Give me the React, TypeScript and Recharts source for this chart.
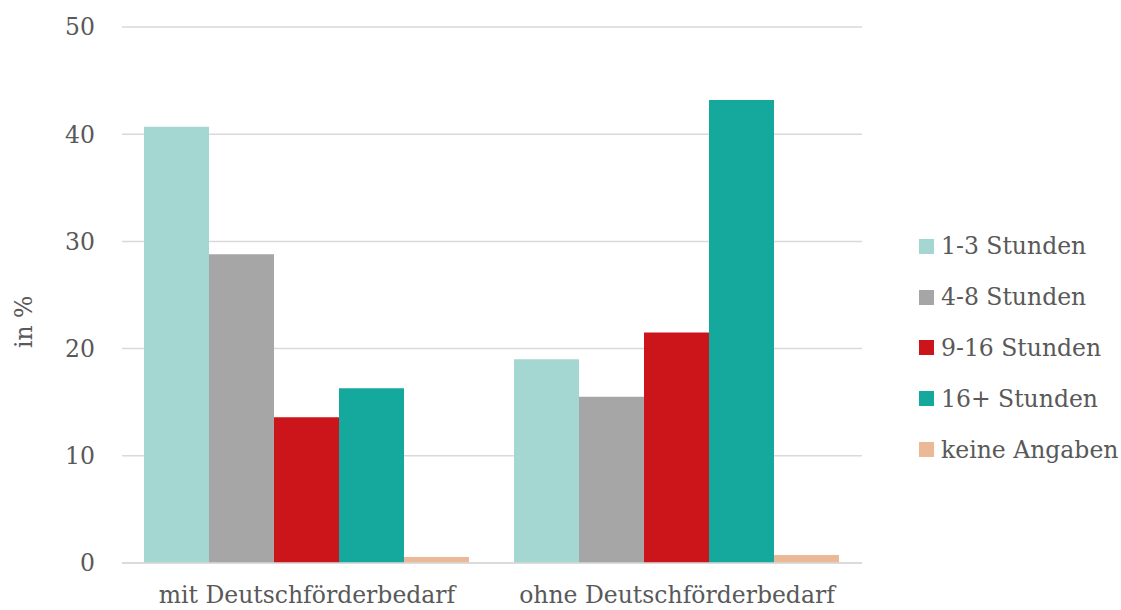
import { BarChart, Bar, XAxis, YAxis, CartesianGrid } from "recharts";

const categories = ["mit Deutschförderbedarf", "ohne Deutschförderbedarf"];
const h1to3 = [40.7, 19.0];
const h4to8 = [28.8, 15.5];
const h9to16 = [13.6, 21.5];
const h16plus = [16.3, 43.2];
const keine = [0.55, 0.75];
const yTicks = [0, 10, 20, 30, 40, 50];

const series = [
  { key: "a", name: "1-3 Stunden", color: "#A5D7D2", values: h1to3 },
  { key: "b", name: "4-8 Stunden", color: "#A6A6A6", values: h4to8 },
  { key: "c", name: "9-16 Stunden", color: "#CC141B", values: h9to16 },
  { key: "d", name: "16+ Stunden", color: "#15A89C", values: h16plus },
  { key: "e", name: "keine Angaben", color: "#EBB998", values: keine },
];

const data = categories.map((name, i) => {
  const row: Record<string, string | number> = { name };
  series.forEach((s) => (row[s.key] = s.values[i]));
  return row;
});

const FONT = "'DejaVu Serif', serif";
const TEXT = "#595959";
const FS = 23.5;

function LegendBox() {
  return (
    <div
      style={{
        position: "absolute",
        left: 919,
        top: 221,
        fontFamily: FONT,
        fontSize: FS,
        color: TEXT,
        whiteSpace: "nowrap",
      }}
    >
      {series.map((s) => (
        <div key={s.key} style={{ display: "flex", alignItems: "center", height: 50.8 }}>
          <div style={{ width: 15, height: 15, background: s.color, marginRight: 7 }} />
          <span>{s.name}</span>
        </div>
      ))}
    </div>
  );
}

export default function App() {
  return (
    <div style={{ position: "absolute", left: 0, top: 0, width: 1121, height: 610, background: "#fff" }}>
      <BarChart
        width={1121}
        height={610}
        data={data}
        margin={{ top: 27, right: 259, bottom: 0, left: 0 }}
        barCategoryGap={22}
        barGap={0}
      >
        <CartesianGrid vertical={false} stroke="#D9D9D9" strokeWidth={1.5} />
        <XAxis
          dataKey="name"
          tickLine={false}
          axisLine={{ stroke: "#D9D9D9", strokeWidth: 1.5 }}
          tick={{ fill: TEXT, fontSize: FS, fontFamily: FONT }}
          tickMargin={17}
          height={47}
        />
        <YAxis
          width={122}
          domain={[0, 50]}
          ticks={yTicks}
          tickLine={false}
          axisLine={false}
          tick={{ fill: TEXT, fontSize: FS, fontFamily: FONT }}
          tickMargin={21}
          label={{
            value: "in %",
            angle: -90,
            position: "insideLeft",
            dx: 19,
            dy: 53,
            fill: TEXT,
            fontSize: FS,
            fontFamily: FONT,
          }}
        />
        {series.map((s) => (
          <Bar key={s.key} dataKey={s.key} name={s.name} fill={s.color} isAnimationActive={false} />
        ))}
      </BarChart>
      <LegendBox />
    </div>
  );
}
